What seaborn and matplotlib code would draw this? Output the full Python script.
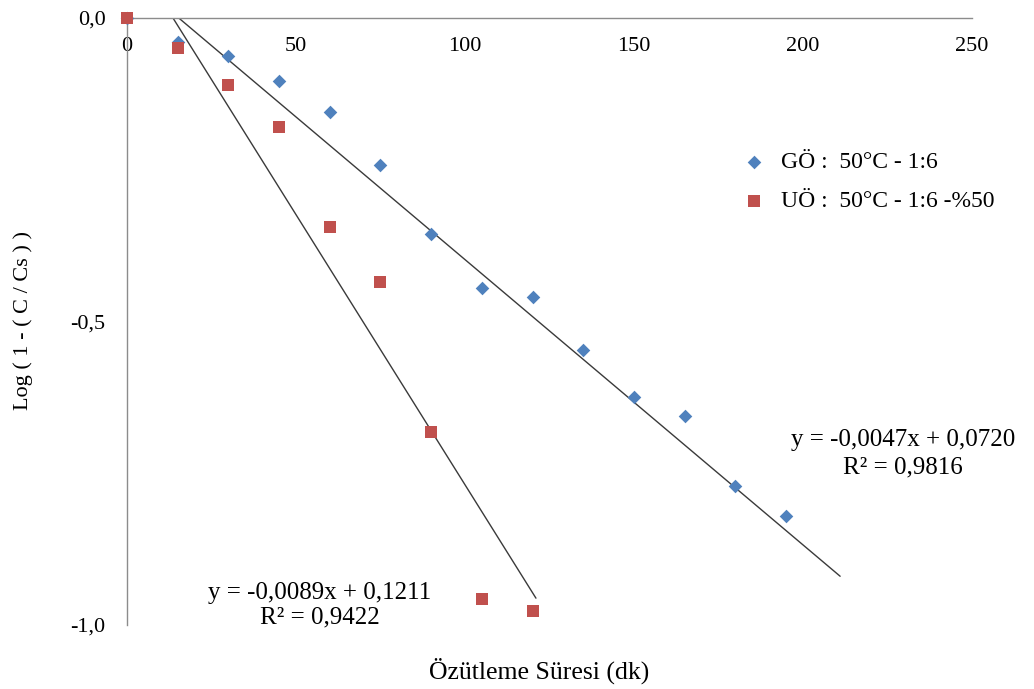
import numpy as np
import pandas as pd
import matplotlib
matplotlib.use("Agg")
import matplotlib.pyplot as plt
import seaborn as sns

# Extraction time (min) and log(1 - C/Cs) for the two extraction methods
go_time = [0, 15, 30, 45, 60, 75, 90, 105, 120, 135, 150, 165, 180, 195]
go_value = [0.0, -0.040, -0.063, -0.104, -0.155, -0.242, -0.356, -0.445,
            -0.460, -0.547, -0.624, -0.656, -0.771, -0.820]

uo_time = [0, 15, 30, 45, 60, 75, 90, 105, 120]
uo_value = [0.0, -0.049, -0.110, -0.180, -0.344, -0.435, -0.682, -0.957, -0.977]

series_labels = ["GÖ :  50°C - 1:6", "UÖ :  50°C - 1:6 -%50"]

# Linear trendlines (slope, intercept, R²) and the x range they span
go_fit = (-0.0047, 0.0720, 0.9816)
uo_fit = (-0.0089, 0.1211, 0.9422)
go_fit_range = (0, 211)
uo_fit_range = (0, 121)

x_ticks = [0, 50, 100, 150, 200, 250]
y_ticks = [0.0, -0.5, -1.0]

sns.set_style("white")
plt.rcParams["font.family"] = ["Liberation Serif", "DejaVu Serif"]
plt.rcParams["text.color"] = "black"
plt.rcParams["xtick.color"] = "black"
plt.rcParams["ytick.color"] = "black"

blue = "#4F81BD"
red = "#C0504D"

df = pd.DataFrame({
    "time": go_time + uo_time,
    "value": go_value + uo_value,
    "series": [series_labels[0]] * len(go_time) + [series_labels[1]] * len(uo_time),
})

fig = plt.figure(figsize=(10.34, 6.89), dpi=100)
ax = fig.add_axes([0.1228, 0.0929, 0.8172, 0.881])

def fit_line(fit, rng):
    xs = np.array(rng, dtype=float)
    return pd.DataFrame({"x": xs, "y": fit[0] * xs + fit[1]})

for fit, rng in [(go_fit, go_fit_range), (uo_fit, uo_fit_range)]:
    line = fit_line(fit, rng)
    sns.lineplot(data=line, x="x", y="y", ax=ax, color="#3a3a3a",
                 linewidth=1.0, legend=False, zorder=2)

sns.scatterplot(data=df[df.series == series_labels[0]], x="time", y="value",
                marker="D", s=48, color=blue, linewidth=0, ax=ax,
                label=series_labels[0], zorder=3, clip_on=False)
sns.scatterplot(data=df[df.series == series_labels[1]], x="time", y="value",
                marker="s", s=82, color=red, linewidth=0, ax=ax,
                label=series_labels[1], zorder=4, clip_on=False)

ax.set_xlim(0, 250)
ax.set_ylim(-1.0, 0.0)
ax.set_xticks(x_ticks)
ax.set_yticks(y_ticks)
ax.set_xticklabels([str(t) for t in x_ticks])
ax.set_yticklabels([f"{t:.1f}".replace(".", ",") for t in y_ticks])

ax.xaxis.set_ticks_position("top")
ax.xaxis.set_label_position("top")
ax.tick_params(axis="x", top=False, bottom=False, labeltop=True,
               labelbottom=False, pad=-31, labelsize=16, labelcolor="black")
ax.tick_params(axis="y", left=False, labelsize=16, pad=12, labelcolor="black")

for side in ["bottom", "right"]:
    ax.spines[side].set_visible(False)
for side in ["top", "left"]:
    ax.spines[side].set_color("#8c8c8c")
    ax.spines[side].set_linewidth(1.0)

ax.set_xlabel("")
ax.set_ylabel("")
fig.text(0.0225, 0.535, "Log ( 1 - ( C / Cs ) )", rotation=90,
         ha="center", va="center", fontsize=16, color="black")
fig.text(0.521, 0.026, "Özütleme Süresi (dk)", ha="center", va="center",
         fontsize=18.5, color="black")

def fmt(v, nd):
    return f"{v:.{nd}f}".replace(".", ",")

ax.text(229.5, -0.695, f"y = {fmt(go_fit[0], 4)}x + {fmt(go_fit[1], 4)}",
        ha="center", va="center", fontsize=18, color="black")
ax.text(229.5, -0.741, f"R² = {fmt(go_fit[2], 4)}",
        ha="center", va="center", fontsize=18, color="black")
ax.text(57, -0.947, f"y = {fmt(uo_fit[0], 4)}x + {fmt(uo_fit[1], 4)}",
        ha="center", va="center", fontsize=18, color="black")
ax.text(57, -0.988, f"R² = {fmt(uo_fit[2], 4)}",
        ha="center", va="center", fontsize=18, color="black")

handles, labels = ax.get_legend_handles_labels()
order = [labels.index(series_labels[0]), labels.index(series_labels[1])]
leg = ax.legend([handles[i] for i in order], [labels[i] for i in order],
                loc="upper left", bbox_to_anchor=(0.703, 0.795), frameon=False,
                fontsize=17, handletextpad=0.15, labelspacing=0.72,
                markerscale=1.0, borderaxespad=0)
for t in leg.get_texts():
    t.set_color("black")

fig.savefig("out.png", dpi=100)
